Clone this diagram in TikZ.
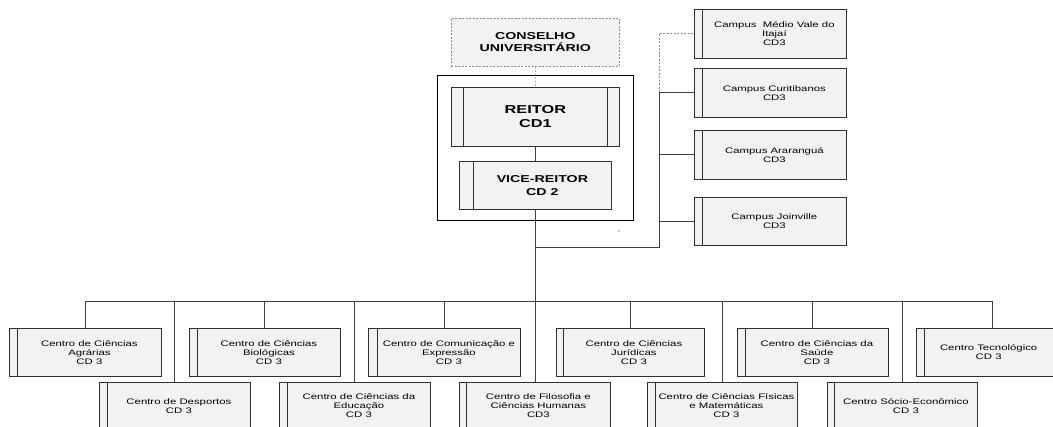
\documentclass[tikz,border=0pt]{standalone}
\usepackage{fontspec}
\setmainfont{Liberation Sans}
\newfontfamily\wfont[FakeStretch=1.42]{Liberation Sans}
\usetikzlibrary{calc}
\definecolor{boxfill}{HTML}{F2F2F2}
\definecolor{linec}{HTML}{303030}
\definecolor{connc}{HTML}{404040}
\tikzset{
  unit/.style={draw=linec, fill=boxfill, line width=0.8pt, inner sep=0pt, align=center,
    font=\wfont\fontsize{8}{9}\selectfont, anchor=north west},
  barbox/.style={draw=linec, fill=boxfill, line width=0.8pt},
  conn/.style={draw=connc, line width=0.8pt},
  dconn/.style={draw=black!45, line width=0.6pt, dash pattern=on 2pt off 1.5pt},
}
% [style] name, left, bar, right, top, bottom, text
\newcommand\ubox[8][]{%
  \node[unit, minimum width={(#5-#4)*1pt}, minimum height={(#7-#6)*1pt}, #1] (#2) at (#4,#6) {#8};
  \draw[barbox] (#3,#6) rectangle (#2.south west);
  \coordinate (#2-top) at ({(#3+#5)/2},#6);
  \coordinate (#2-left) at (#3,{(#6+#7)/2});
}
\begin{document}
\begin{tikzpicture}[x=1pt,y=-1pt]
\useasboundingbox (0,0) rectangle (1053,427);
\clip (0,0) rectangle (1053,427);

% council
\node[draw=black!45, fill=boxfill, line width=0.6pt, dash pattern=on 2pt off 1.5pt,
      inner sep=0pt, align=center, anchor=north west,
      minimum width=168pt, minimum height=48pt,
      font=\wfont\bfseries\fontsize{10}{12}\selectfont] (cons) at (451,18) {CONSELHO\\UNIVERSITÁRIO};

% outer frame
\node[draw=black, line width=1.4pt, inner sep=0pt, anchor=north west,
      minimum width=196pt, minimum height=145pt] (gov) at (437,75) {};

% rector
\node[unit, minimum width=144pt, minimum height=59pt,
      font=\wfont\bfseries\fontsize{11.5}{14}\selectfont] (reitor) at (463,87) {REITOR\\CD1};
\draw[barbox] (451,87) rectangle (reitor.south west);
\draw[barbox] (reitor.north east) rectangle (619,146);

% vice rector
\ubox[font=\wfont\bfseries\fontsize{10}{13}\selectfont]{vice}{459}{473}{611}{161}{209}{VICE-REITOR\\CD 2}

\fill (619,231) circle (0.6);

% campi
\ubox{med}{694}{702}{846}{9}{58}{Campus\ \ Médio Vale do\\Itajaí\\CD3}
\ubox{curi}{694}{702}{846}{68}{117}{Campus Curitibanos\\CD3}
\ubox{ara}{694}{702}{846}{130}{179}{Campus Araranguá\\CD3}
\ubox{join}{694}{702}{846}{197}{245}{Campus Joinville\\CD3}

% centers, top row
\ubox{agr}{9}{17}{161}{328}{376}{Centro de Ciências\\Agrárias\\CD 3}
\ubox{bio}{189}{197}{340}{328}{376}{Centro de Ciências\\Biológicas\\CD 3}
\ubox{com}{368}{377}{520}{328}{376}{Centro de Comunicação e\\Expressão\\CD 3}
\ubox{jur}{556}{563}{704}{328}{376}{Centro de Ciências\\Jurídicas\\CD 3}
\ubox{sau}{737}{745}{888}{328}{376}{Centro de Ciências da\\Saúde\\CD 3}
\ubox{tec}{916}{924}{1052.5}{328}{376}{Centro Tecnológico\\CD 3}
\coordinate (tec-top) at (992,328);

% centers, bottom row
\ubox{des}{99}{107}{250}{382}{429}{Centro de Desportos\\CD 3}
\ubox{edu}{279}{287}{430}{382}{429}{Centro de Ciências da\\Educação\\CD 3}
\ubox{fil}{459}{466}{610}{382}{429}{Centro de Filosofia e\\Ciências Humanas\\CD3}
\ubox{fis}{647}{655}{797}{382}{429}{Centro de Ciências Físicas\\e Matemáticas\\CD 3}
\ubox{soc}{827}{834}{977}{382}{429}{Centro Sócio-Econômico\\CD 3}

% connectors: council -> rector -> vice
\draw[dconn] (cons.south) -- (reitor.north);
\draw[conn] (reitor.south) -- (reitor.south |- vice.north);

% trunk
\coordinate (trunk) at (535,209);
\draw[conn] (trunk) -- (trunk |- fil.north);

% campi branch
\coordinate (j1) at (535,247);
\coordinate (j2) at (659,247);
\draw[conn] (j1) -- (j2) -- (j2 |- curi-left) -- (curi-left);
\draw[conn] (j2 |- ara-left) -- (ara-left);
\draw[conn] (j2 |- join-left) -- (join-left);
\draw[dconn] (j2 |- curi-left) -- (j2 |- med-left) -- (med-left);

% centers bus
\coordinate (busL) at (85,301);
\coordinate (busR) at (992,301);
\draw[conn] (busL) -- (busR);
\foreach \b in {agr,bio,com,jur,sau,tec,des,edu,fis,soc}{
  \draw[conn] (\b-top |- busL) -- (\b-top);
}
\end{tikzpicture}
\end{document}
